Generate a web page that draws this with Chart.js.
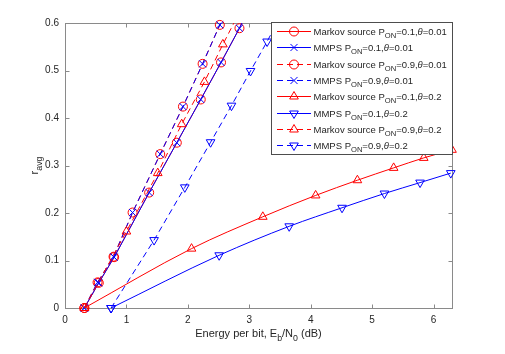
<!DOCTYPE html>
<html><head><meta charset="utf-8">
<script src="https://cdn.jsdelivr.net/npm/chart.js@4.4.1/dist/chart.umd.min.js"></script>
<style>html,body{margin:0;padding:0;background:#fff}canvas{display:block}</style>
</head><body>
<canvas id="c" width="505" height="354"></canvas>
<script>
// ---- data ----
const xTicks = [0, 1, 2, 3, 4, 5, 6];
const yTicks = [0, 0.1, 0.2, 0.3, 0.4, 0.5, 0.6];
const xMax = 6.3, yMax = 0.6;

const sourceNames = ['Markov source', 'MMPS', 'Markov source', 'MMPS', 'Markov source', 'MMPS', 'Markov source', 'MMPS'];
const pOnValues   = ['0.1', '0.1', '0.9', '0.9', '0.1', '0.1', '0.9', '0.9'];
const thetaValues = ['0.01', '0.01', '0.01', '0.01', '0.2', '0.2', '0.2', '0.2'];

const markovP01T001_x = [0.315, 0.55, 0.80, 1.37, 1.82, 2.21, 2.54, 2.84, 2.88];
const markovP01T001_y = [0, 0.053, 0.107, 0.243, 0.348, 0.439, 0.517, 0.589, 0.6];
const mmpsP01T001_x   = [0.315, 0.55, 0.80, 1.37, 1.82, 2.21, 2.54, 2.84, 2.88];
const mmpsP01T001_y   = [0, 0.053, 0.107, 0.243, 0.348, 0.439, 0.517, 0.589, 0.6];
const markovP09T001_x = [0.315, 0.53, 0.79, 1.10, 1.55, 1.92, 2.24, 2.52, 2.535];
const markovP09T001_y = [0, 0.054, 0.108, 0.201, 0.324, 0.424, 0.514, 0.596, 0.6];
const mmpsP09T001_x   = [0.315, 0.53, 0.79, 1.10, 1.55, 1.92, 2.24, 2.52, 2.535];
const mmpsP09T001_y   = [0, 0.054, 0.108, 0.201, 0.324, 0.424, 0.514, 0.596, 0.6];
const markovP01T02_x  = [0.315, 2.06, 3.22, 4.08, 4.76, 5.35, 5.84, 6.3];
const markovP01T02_y  = [0, 0.125, 0.192, 0.237, 0.269, 0.295, 0.316, 0.333];
const mmpsP01T02_x    = [0.75, 2.51, 3.65, 4.51, 5.20, 5.78, 6.28];
const mmpsP01T02_y    = [0, 0.111, 0.172, 0.211, 0.241, 0.264, 0.284];
const markovP09T02_x  = [0.315, 1.0, 1.51, 1.90, 2.27, 2.57, 2.75];
const markovP09T02_y  = [0, 0.161, 0.284, 0.387, 0.476, 0.555, 0.6];
const mmpsP09T02_x    = [0.75, 1.45, 1.95, 2.37, 2.71, 3.02, 3.29, 3.45];
const mmpsP09T02_y    = [0, 0.143, 0.254, 0.349, 0.426, 0.499, 0.561, 0.6];

const seriesX = [markovP01T001_x, mmpsP01T001_x, markovP09T001_x, mmpsP09T001_x, markovP01T02_x, mmpsP01T02_x, markovP09T02_x, mmpsP09T02_x];
const seriesY = [markovP01T001_y, mmpsP01T001_y, markovP09T001_y, mmpsP09T001_y, markovP01T02_y, mmpsP01T02_y, markovP09T02_y, mmpsP09T02_y];

// ---- styles ----
const RED = '#ff0000', BLUE = '#0000ff';
const styles = [
  {color: RED,  dash: false, marker: 'circle',   rot: 0,   r: 4.5, smooth: false},
  {color: BLUE, dash: false, marker: 'crossRot', rot: 0,   r: 5,   smooth: false},
  {color: RED,  dash: true,  marker: 'circle',   rot: 0,   r: 4.5, smooth: false},
  {color: BLUE, dash: true,  marker: 'crossRot', rot: 0,   r: 5,   smooth: false},
  {color: RED,  dash: false, marker: 'triangle', rot: 0,   r: 5,   smooth: true},
  {color: BLUE, dash: false, marker: 'triangle', rot: 180, r: 5,   smooth: true},
  {color: RED,  dash: true,  marker: 'triangle', rot: 0,   r: 5,   smooth: false},
  {color: BLUE, dash: true,  marker: 'triangle', rot: 180, r: 5,   smooth: false}
];
const DASH = [6, 4];
const FONT = '"Liberation Sans", Arial, Helvetica, sans-serif';
const TXT = '#262626';

const datasets = seriesX.map((xs, i) => {
  const s = styles[i];
  return {
    label: sourceNames[i] + ' P_ON=' + pOnValues[i] + ',θ=' + thetaValues[i],
    data: xs.map((x, j) => ({x: x, y: seriesY[i][j]})),
    showLine: true,
    borderColor: s.color,
    borderWidth: 1,
    borderDash: s.dash ? DASH : [],
    pointStyle: s.marker,
    pointRotation: s.rot,
    pointRadius: c => (c.raw && c.raw.y >= yMax) ? 0 : s.r,
    pointBorderColor: s.color,
    pointBackgroundColor: 'rgba(0,0,0,0)',
    pointBorderWidth: 1,
    tension: 0,
    cubicInterpolationMode: s.smooth ? 'monotone' : 'default',
    clip: 8,
    order: 20 - i
  };
});

function drawMarker(ctx, style, x, y, r, rot, color) {
  ctx.save();
  ctx.strokeStyle = color; ctx.lineWidth = 1; ctx.setLineDash([]);
  ctx.beginPath();
  if (style === 'circle') {
    ctx.arc(x, y, r, 0, Math.PI * 2);
  } else if (style === 'crossRot') {
    const d = r * Math.SQRT1_2;
    ctx.moveTo(x - d, y - d); ctx.lineTo(x + d, y + d);
    ctx.moveTo(x - d, y + d); ctx.lineTo(x + d, y - d);
  } else if (style === 'triangle') {
    let a = rot * Math.PI / 180;
    ctx.moveTo(x + Math.sin(a) * r, y - Math.cos(a) * r);
    a += 2 * Math.PI / 3;
    ctx.lineTo(x + Math.sin(a) * r, y - Math.cos(a) * r);
    a += 2 * Math.PI / 3;
    ctx.lineTo(x + Math.sin(a) * r, y - Math.cos(a) * r);
    ctx.closePath();
  }
  ctx.stroke();
  ctx.restore();
}

function drawRich(ctx, parts, x, y, size) {
  let cx = x;
  parts.forEach(p => {
    const fs = p.sub ? size * 0.8 : size;
    ctx.font = (p.it ? 'italic ' : '') + fs + 'px ' + FONT;
    ctx.fillText(p.t, cx, y + (p.sub ? size * 0.35 : 0));
    cx += ctx.measureText(p.t).width;
  });
  return cx - x;
}
function richWidth(ctx, parts, size) {
  let w = 0;
  parts.forEach(p => {
    const fs = p.sub ? size * 0.8 : size;
    ctx.font = (p.it ? 'italic ' : '') + fs + 'px ' + FONT;
    w += ctx.measureText(p.t).width;
  });
  return w;
}

const axesPlugin = {
  id: 'matlabAxes',
  beforeDatasetsDraw(chart) {
    const {ctx, chartArea: a, scales} = chart;
    const L = Math.round(a.left) + 0.5, R = Math.round(a.right) + 0.5;
    const T = Math.round(a.top) + 0.5, B = Math.round(a.bottom) + 0.5;
    ctx.save();
    ctx.strokeStyle = '#8a8a8a'; ctx.lineWidth = 1;
    ctx.strokeRect(L, T, R - L, B - T);
    ctx.beginPath();
    xTicks.forEach(v => {
      const px = Math.round(scales.x.getPixelForValue(v)) + 0.5;
      ctx.moveTo(px, B); ctx.lineTo(px, B - 4);
      ctx.moveTo(px, T); ctx.lineTo(px, T + 4);
    });
    yTicks.forEach(v => {
      const py = Math.round(scales.y.getPixelForValue(v)) + 0.5;
      ctx.moveTo(L, py); ctx.lineTo(L + 4, py);
      ctx.moveTo(R, py); ctx.lineTo(R - 4, py);
    });
    ctx.stroke();
    ctx.restore();
  },
  afterDraw(chart) {
    const {ctx, chartArea: a} = chart;
    ctx.save();
    ctx.fillStyle = TXT;
    ctx.textBaseline = 'alphabetic';
    // x title
    const xt = [{t: 'Energy per bit, E'}, {t: 'b', sub: true}, {t: '/N'}, {t: '0', sub: true}, {t: ' (dB)'}];
    const w = richWidth(ctx, xt, 11);
    drawRich(ctx, xt, (a.left + a.right) / 2 - w / 2, 337, 11);
    // y title
    ctx.save();
    ctx.translate(38, (a.top + a.bottom) / 2);
    ctx.rotate(-Math.PI / 2);
    const yt = [{t: 'r'}, {t: 'avg', sub: true}];
    const wy = richWidth(ctx, yt, 11);
    drawRich(ctx, yt, -wy / 2, 0, 11);
    ctx.restore();

    // legend
    const lx0 = 271.5, ly0 = 22.5, lx1 = 452.5, ly1 = 154.5;
    ctx.fillStyle = '#ffffff';
    ctx.fillRect(lx0, ly0, lx1 - lx0, ly1 - ly0);
    ctx.strokeStyle = '#4d4d4d'; ctx.lineWidth = 1;
    ctx.strokeRect(lx0, ly0, lx1 - lx0, ly1 - ly0);
    for (let i = 0; i < 8; i++) {
      const s = styles[i];
      const cy = Math.round(30.7 + i * 16.4) + 0.5;
      ctx.save();
      ctx.strokeStyle = s.color; ctx.lineWidth = 1;
      ctx.setLineDash(s.dash ? DASH : []);
      ctx.beginPath(); ctx.moveTo(277, cy); ctx.lineTo(311, cy); ctx.stroke();
      ctx.restore();
      drawMarker(ctx, s.marker, 294, cy, s.r, s.rot, s.color);
      ctx.fillStyle = TXT;
      drawRich(ctx, [
        {t: sourceNames[i] + ' P'}, {t: 'ON', sub: true}, {t: '=' + pOnValues[i] + ','},
        {t: 'θ', it: true}, {t: '=' + thetaValues[i]}
      ], 313.5, cy + 3, 9.5);
    }
    ctx.restore();
  }
};

new Chart(document.getElementById('c'), {
  type: 'scatter',
  data: {datasets},
  options: {
    responsive: false,
    animation: false,
    events: [],
    layout: {padding: {left: 0, top: 23, right: 53, bottom: 0}},
    plugins: {legend: {display: false}, tooltip: {enabled: false}},
    scales: {
      x: {
        type: 'linear', min: 0, max: xMax,
        grid: {display: false, drawTicks: false},
        border: {display: false},
        afterBuildTicks: s => { s.ticks = xTicks.map(v => ({value: v})); },
        ticks: {padding: 6, color: TXT, font: {family: FONT, size: 10}, maxRotation: 0, autoSkip: false},
        afterFit: s => { s.height = 46; }
      },
      y: {
        type: 'linear', min: 0, max: yMax,
        grid: {display: false, drawTicks: false},
        border: {display: false},
        afterBuildTicks: s => { s.ticks = yTicks.map(v => ({value: v})); },
        ticks: {padding: 6, color: TXT, font: {family: FONT, size: 10}, autoSkip: false},
        afterFit: s => { s.width = 65; }
      }
    }
  },
  plugins: [axesPlugin]
});
</script>
</body></html>
